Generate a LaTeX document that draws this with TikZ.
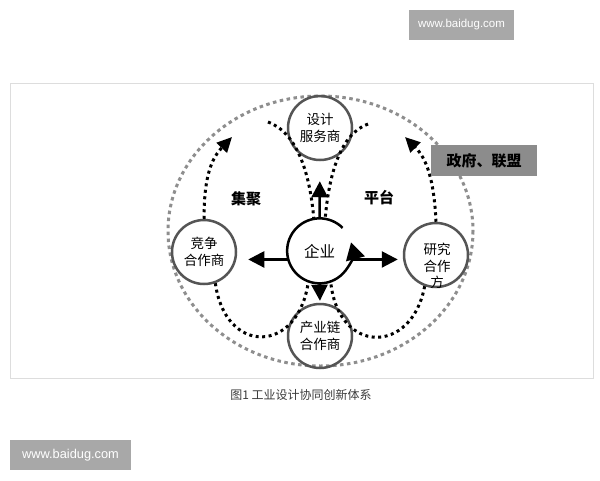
\documentclass[tikz,border=0pt]{standalone}
\usepackage{fontspec}
\usepackage{xcolor}
\usetikzlibrary{arrows.meta}
\setsansfont{Liberation Sans}
\newfontfamily\cjk{Noto Sans CJK SC}
\definecolor{ringgray}{HTML}{555555}
\definecolor{dotgray}{HTML}{8E8E8E}
\definecolor{boxgray}{HTML}{8C8C8C}
\definecolor{markgray}{HTML}{A8A8A8}
\definecolor{framegray}{HTML}{DDDDDD}
\definecolor{captiongray}{HTML}{3A3A3A}
\tikzstyle{partner}=[circle, draw=ringgray, line width=2.5pt, minimum size=64pt, inner sep=0pt, align=center, font=\cjk\fontsize{13.5}{17}\selectfont]
\tikzstyle{flow}=[line width=3pt, dash pattern=on 3pt off 3.5pt]
\tikzstyle{flowarrow}=[flow, -{Triangle[length=15pt,width=14pt]}]
\tikzstyle{bigarrow}=[line width=2.5pt, -{Triangle[length=16pt,width=16pt]}]
\tikzstyle{halo}=[dotgray, line width=3pt, dash pattern=on 3.5pt off 3.5pt]
\tikzstyle{watermark}=[fill=markgray, text=white, inner sep=0pt]
\tikzstyle{tag}=[font=\cjk\bfseries\fontsize{15}{18}\selectfont]

\begin{document}
\begin{tikzpicture}[x=1pt, y=-1pt]
		\useasboundingbox (0, 0) rectangle (600, 480);
		\fill[white] (0, 0) rectangle (600, 480);
		\draw[framegray, line width=1pt] (10, 83) rectangle (593, 378);
		\coordinate(hub) at (320.5, 231);
		\draw[halo] (hub) ellipse [x radius=152.5, y radius=135];
		\node(qiye)[circle, minimum size=65pt, inner sep=0pt, font=\cjk\fontsize{15.5}{18}\selectfont] at (319.5, 251) {企业};
		\node(sheji)[partner] at (320, 128) {设计\\服务商};
		\node(jingzheng)[partner] at (204, 252) {竞争\\合作商};
		\node(yanjiu)[partner] at (436, 255) {};
		\node(yanjiutext)[anchor=center, align=center, font=\cjk\fontsize{13.5}{16.5}\selectfont] at (437, 266) {研究\\合作\\方};
		\node(chanye)[partner] at (320, 336) {产业链\\合作商};
		\coordinate(leftend) at (232, 137);
		\coordinate(rightend) at (405, 137);
		\coordinate(topleft) at (268, 122);
		\coordinate(topright) at (368, 124);
		\draw[flowarrow] (jingzheng.north) .. controls (204, 175) and (212, 158) .. (leftend);
		\draw[flowarrow] (yanjiu.north) .. controls (434, 178) and (426, 158) .. (rightend);
		\draw[flow] (jingzheng.-70) .. controls (225, 355) and (298, 355) .. (qiye.250);
		\draw[flow] (yanjiu.-110) .. controls (412, 355) and (338, 355) .. (qiye.-70);
		\draw[flow] (topleft) .. controls (298, 133) and (310, 175) .. (qiye.100);
		\draw[flow] (topright) .. controls (340, 134) and (329, 175) .. (qiye.80);
		\node(jiju)[tag] at (246, 199) {集聚};
		\node(pingtai)[tag] at (379, 198) {平台};
		\node(zhengfu)[tag, fill=boxgray, minimum width=106pt, minimum height=31pt, inner sep=0pt] at (484, 160.5) {政府、联盟};
		\draw[line width=2.5pt, -{Triangle[length=17pt,width=19pt]}] (qiye.45) arc (-45:-375:32.5);
		\draw[bigarrow, shorten >=20pt] (qiye.north) -- (sheji.south);
		\draw[bigarrow, shorten >=2pt] (qiye.south) -- (chanye.north);
		\draw[bigarrow, shorten >=11pt] (qiye.195) -- (qiye.195 -| jingzheng.east);
		\draw[bigarrow, shorten >=5pt] (qiye.-15) -- (qiye.-15 -| yanjiu.west);
		\node(caption)[text=captiongray, font=\cjk\fontsize{12}{14}\selectfont] at (301, 395) {图1 工业设计协同创新体系};
		\node(marktop)[watermark, minimum width=105pt, minimum height=30pt, font=\sffamily\fontsize{11.5}{14}\selectfont] at (461.5, 25) {www.baidug.com};
		\node(markbottom)[watermark, minimum width=121pt, minimum height=30pt, font=\sffamily\fontsize{12.8}{15}\selectfont] at (70.5, 455) {www.baidug.com};
\end{tikzpicture}
\end{document}
